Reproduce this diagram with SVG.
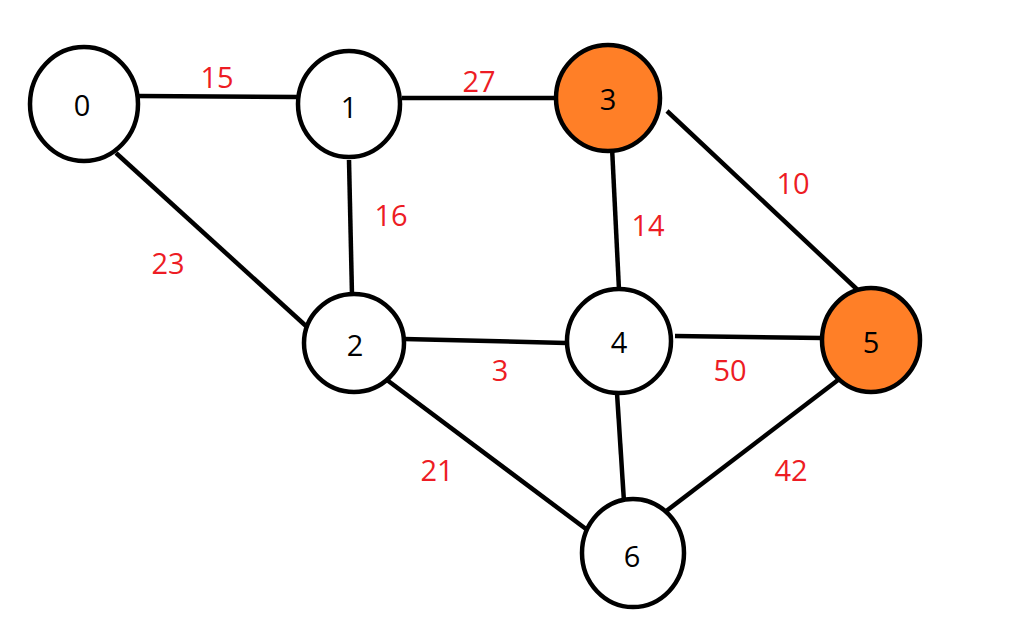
<svg xmlns="http://www.w3.org/2000/svg" width="1013" height="634" viewBox="0 0 1013 634">
<style>
.n{fill:#ffffff;stroke:#000;stroke-width:4.5}
.o{fill:#ff7f27;stroke:#000;stroke-width:4.5}
.e{stroke:#000;stroke-width:4.5;fill:none}
.t{font-family:"Open Sans","DejaVu Sans",sans-serif;font-size:29px;fill:#000;text-anchor:middle;dominant-baseline:central}
.w{font-family:"Open Sans","DejaVu Sans",sans-serif;font-size:29px;fill:#ed1c24;text-anchor:middle;dominant-baseline:central}
</style>
<rect width="1013" height="634" fill="#fff"/>
<g id="edges">
<line class="e" x1="138" y1="96" x2="298" y2="97"/>
<line class="e" x1="402" y1="98" x2="556" y2="98"/>
<line class="e" x1="116" y1="153" x2="306" y2="326"/>
<line class="e" x1="349" y1="160" x2="352" y2="295"/>
<line class="e" x1="612" y1="147" x2="619" y2="290"/>
<line class="e" x1="667" y1="111" x2="862" y2="294"/>
<line class="e" x1="404" y1="339" x2="566" y2="343"/>
<line class="e" x1="675" y1="336" x2="822" y2="338"/>
<line class="e" x1="387" y1="380" x2="590" y2="532"/>
<line class="e" x1="617" y1="393" x2="624" y2="502"/>
<line class="e" x1="838" y1="380" x2="665" y2="512"/>
<text class="w" x="217" y="76">15</text>
<text class="w" x="479" y="80">27</text>
<text class="w" x="391" y="214">16</text>
<text class="w" x="168" y="262">23</text>
<text class="w" x="648" y="224">14</text>
<text class="w" x="793" y="182">10</text>
<text class="w" x="500" y="369">3</text>
<text class="w" x="730" y="369">50</text>
<text class="w" x="437" y="469">21</text>
<text class="w" x="791" y="469">42</text>
</g>
<g id="node0"><ellipse class="n" cx="84" cy="104" rx="54" ry="57"/><text class="t" x="82" y="104">0</text></g>
<g id="node1"><ellipse class="n" cx="349" cy="104" rx="51" ry="53"/><text class="t" x="349" y="106">1</text></g>
<g id="node3"><ellipse class="o" cx="608" cy="98" rx="52" ry="53"/><text class="t" x="608" y="98">3</text></g>
<g id="node2"><ellipse class="n" cx="354" cy="343" rx="50" ry="49"/><text class="t" x="355" y="344">2</text></g>
<g id="node4"><ellipse class="n" cx="619" cy="341" rx="52" ry="52"/><text class="t" x="619" y="341">4</text></g>
<g id="node5"><ellipse class="o" cx="871" cy="340" rx="49" ry="52"/><text class="t" x="871" y="341">5</text></g>
<g id="node6"><ellipse class="n" cx="633" cy="553" rx="51" ry="54"/><text class="t" x="632" y="555">6</text></g>
</svg>
